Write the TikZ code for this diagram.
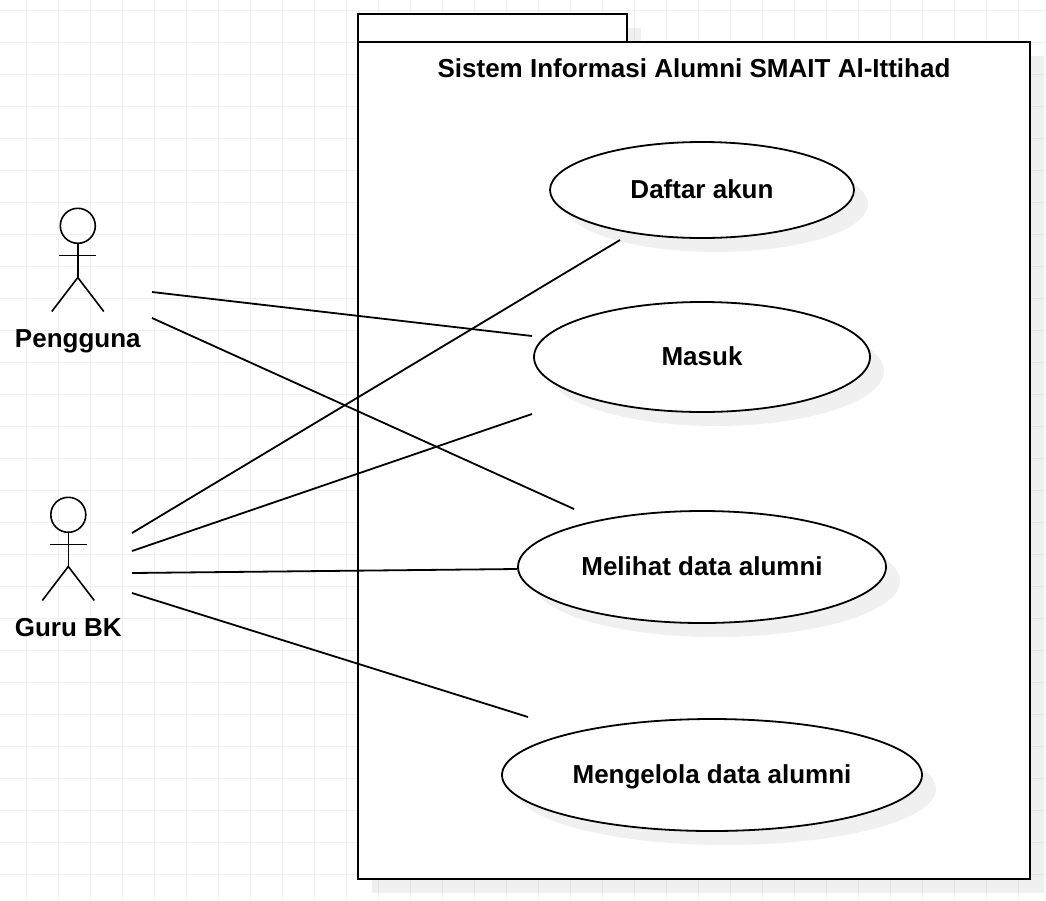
\documentclass[tikz,border=0pt]{standalone}
\usepackage{fontspec}
\setmainfont{Liberation Sans}
\usepackage{tikz}
\usetikzlibrary{positioning,calc,shapes.geometric}

\begin{document}
\begin{tikzpicture}[x=1pt, y=-1pt, line width=2pt]
\tikzstyle{usecase}=[draw, ellipse, fill=white, inner sep=0pt, font=\fontsize{26}{30}\bfseries, text height=16pt, text depth=0pt, line width=1.8pt]
\tikzstyle{shade}=[fill=black, fill opacity=0.06, draw=none]
\tikzstyle{lbl}=[font=\fontsize{26}{30}\bfseries, text height=18pt, text depth=0pt, inner sep=0pt]
\tikzstyle{assoc}=[line width=1.8pt]
\tikzstyle{stick}=[line width=1.6pt]
\useasboundingbox (0,0) rectangle (1046,900);

% page grid
\foreach \gx in {26,58,...,1042} \draw[black!6, line width=1pt] (\gx,0) -- (\gx,900);
\foreach \gy in {10,42,...,900} \draw[black!6, line width=1pt] (0,\gy) -- (1046,\gy);

% system package
\fill[shade] (372,28) rectangle (641,56);
\fill[shade] (372,56) rectangle (1044,893);
\draw[fill=white] (358,14) rectangle (627,42);
\draw[fill=white] (358,42) rectangle (1030,879);
\node[lbl] (title) at (694,68) {Sistem Informasi Alumni SMAIT Al-Ittihad};

% use cases
\foreach \nm/\cx/\cy/\rx/\ry/\txt in {
  daftar/702/190/152/48/Daftar akun,
  masuk/702/357/168/55/Masuk,
  melihat/702/567/184/56/Melihat data alumni,
  kelola/712/775/210/56/Mengelola data alumni} {
  \fill[shade] (\cx+14,\cy+14) ellipse ({\rx} and {\ry});
  \node[usecase, minimum width=2*\rx, minimum height=2*\ry] (\nm) at (\cx,\cy) {\txt};
}

% actors
\foreach \nm/\ax/\ay/\ly/\txt in {pengguna/77.8/207.5/338/Pengguna, guru/68.3/496.5/627/Guru BK} {
  \node[draw, circle, minimum size=35pt, inner sep=0pt, stick, anchor=north] (\nm head) at (\ax,\ay) {};
  \coordinate (\nm hip) at (\ax,\ay+70);
  \draw[stick] (\nm head.south) -- (\nm hip);
  \draw[stick] (\ax-18.5,\ay+48) -- (\ax+18.5,\ay+48);
  \draw[stick] (\ax-26,\ay+104) -- (\nm hip) -- (\ax+26,\ay+104);
  \node[lbl] (\nm) at (\ax,\ly) {\txt};
}

% connector ends
\coordinate (p1) at (152,292);
\coordinate (p2) at (152,318);
\coordinate (g1) at (132,533);
\coordinate (g2) at (132,551);
\coordinate (g3) at (132,573);
\coordinate (g4) at (132,593);
\coordinate (t1) at (532,336);
\coordinate (t2) at (574,509);
\coordinate (t3) at (620,240);
\coordinate (t4) at (532,414);
\coordinate (t5) at (517,569);
\coordinate (t6) at (528,717);

\draw[assoc] (p1) -- (t1);
\draw[assoc] (p2) -- (t2);
\draw[assoc] (g1) -- (t3);
\draw[assoc] (g2) -- (t4);
\draw[assoc] (g3) -- (t5);
\draw[assoc] (g4) -- (t6);
\end{tikzpicture}
\end{document}
